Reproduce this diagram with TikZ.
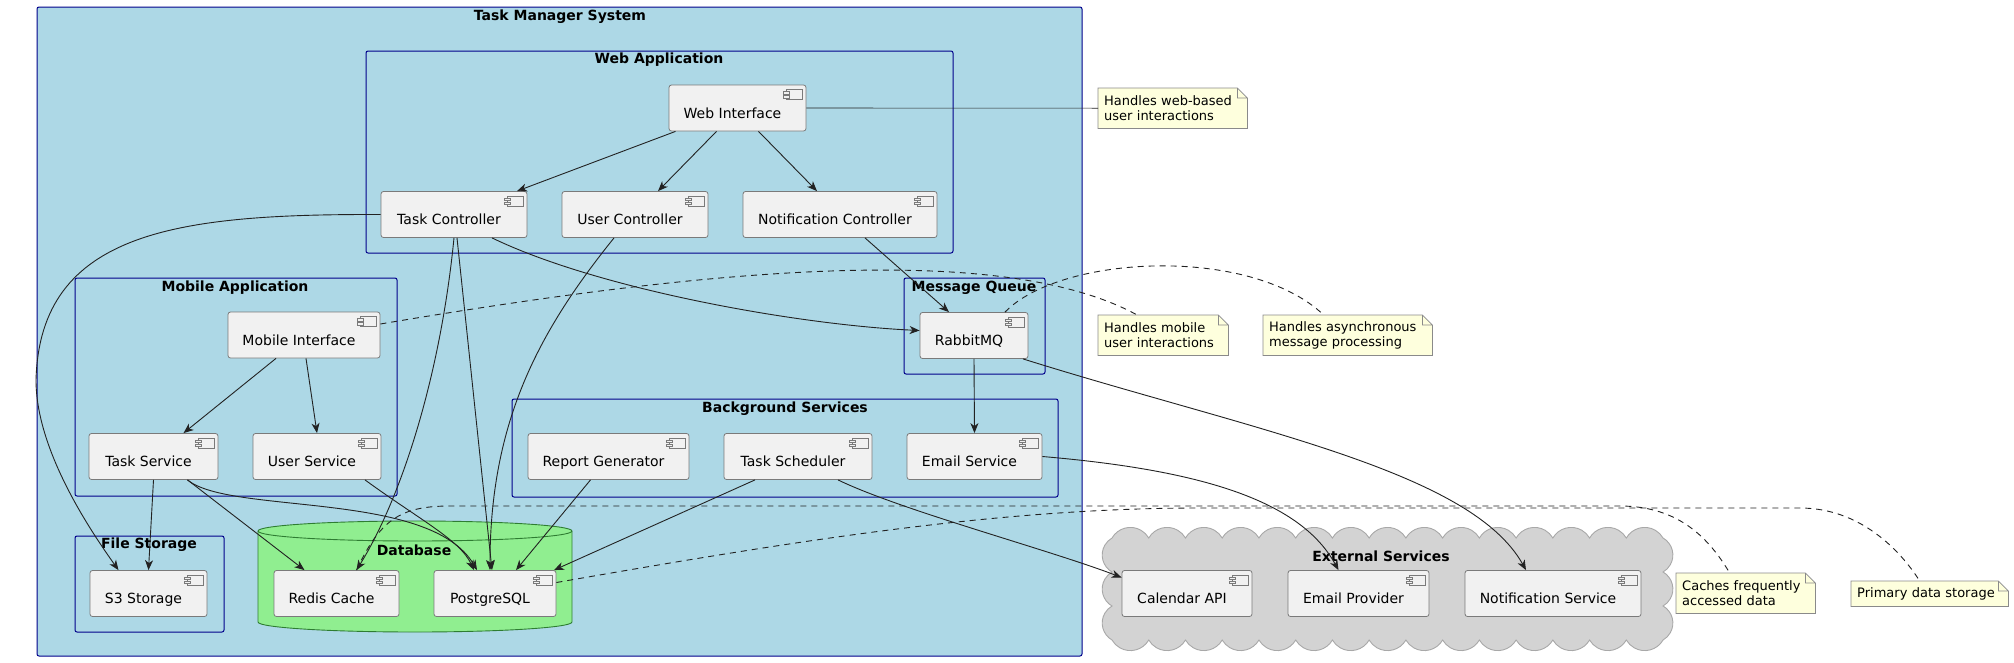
\documentclass[tikz,border=0pt]{standalone}
\usepackage{fontspec}
\setmainfont{DejaVu Sans}
\usetikzlibrary{arrows.meta}
\definecolor{pkgfill}{HTML}{ADD8E6}
\definecolor{pkgedge}{HTML}{00008B}
\definecolor{compfill}{HTML}{F1F1F1}
\definecolor{compedge}{HTML}{7A7A7A}
\definecolor{dbfill}{HTML}{90EE90}
\definecolor{dbedge}{HTML}{2E7D32}
\definecolor{cloudfill}{HTML}{D3D3D3}
\definecolor{cloudedge}{HTML}{A8A8A8}
\definecolor{notefill}{HTML}{FEFFDD}
\definecolor{noteedge}{HTML}{8A8A8A}
\definecolor{edgecol}{HTML}{222222}
\tikzset{
  comp/.style={draw=compedge, fill=compfill, line width=0.8pt, rounded corners=2.5pt,
    minimum height=46pt, inner sep=0pt, text height=20pt, text depth=0pt,
    font=\fontsize{14}{16}\selectfont, execute at end node=\kern10pt},
  pkgbox/.style={draw=pkgedge, fill=pkgfill, line width=1pt, rounded corners=2pt},
  pkgtitle/.style={font=\fontsize{14}{16}\selectfont\bfseries, inner sep=0pt},
  notebox/.style={fill=notefill, inner sep=6pt, align=left, anchor=north west,
    font=\fontsize{13}{15}\selectfont},
  noteline/.style={draw=noteedge, line width=0.8pt},
  usearrow/.style={draw=edgecol, line width=0.9pt, -{Stealth[length=10pt,width=8pt,inset=3pt]}},
  notelink/.style={draw=edgecol, line width=0.9pt, dash pattern=on 6pt off 5pt},
  compicon/.pic={
    \draw[draw=compedge, fill=compfill, line width=0.6pt] (-20,5) rectangle (-4,15);
    \draw[draw=compedge, fill=compfill, line width=0.6pt] (-23,7) rectangle (-17,9.5);
    \draw[draw=compedge, fill=compfill, line width=0.6pt] (-23,11) rectangle (-17,13.5);
  }
}
\begin{document}
\begin{tikzpicture}[x=1pt,y=-1pt]
\useasboundingbox (0,0) rectangle (2014,662);
% containers
\draw[pkgbox] (37,7) rectangle (1082,656);
\draw[pkgbox] (366,51) rectangle (953,253);
\draw[pkgbox] (75,278) rectangle (397,496);
\draw[pkgbox] (904,278) rectangle (1045,374);
\draw[pkgbox] (512,399) rectangle (1058,497);
\draw[pkgbox] (75,536) rectangle (224,632);
% database
\draw[draw=dbedge, fill=dbfill, line width=0.9pt] (258,531) -- (258,622)
  arc[start angle=180, end angle=360, x radius=157pt, y radius=10pt] -- (572,531)
  arc[start angle=0, end angle=180, x radius=157pt, y radius=10pt] -- cycle;
\draw[draw=dbedge, line width=0.9pt] (258,531) arc[start angle=180, end angle=360, x radius=157pt, y radius=10pt];
% external services cloud
\draw[draw=cloudedge, fill=cloudfill, line width=0.9pt] (1112,538)
  \foreach \i in {1,...,15}{ arc[start angle=150, end angle=30, radius=21.21pt] }
  \foreach \i in {1,2,3}{ arc[start angle=60, end angle=-60, radius=19.63pt] }
  \foreach \i in {1,...,15}{ arc[start angle=-30, end angle=-150, radius=21.21pt] }
  \foreach \i in {1,2,3}{ arc[start angle=240, end angle=120, radius=19.63pt] }
  -- cycle;
% titles
\node[pkgtitle] (tsys) at (560,17) {Task Manager System};
\node[pkgtitle] (tweb) at (659,60) {Web Application};
\node[pkgtitle] (tmob) at (235,288) {Mobile Application};
\node[pkgtitle] (tmq) at (974,288) {Message Queue};
\node[pkgtitle] (tbg) at (785,409) {Background Services};
\node[pkgtitle] (tfile) at (149,545) {File Storage};
\node[pkgtitle] (tdb) at (414,550) {Database};
\node[pkgtitle] (text) at (1381,556) {External Services};
% components
\node[comp, minimum width=137pt] (webui) at (737.5,108) {Web Interface};
\node[comp, minimum width=146pt] (taskctl) at (454,214.5) {Task Controller};
\node[comp, minimum width=146pt] (userctl) at (635,214.5) {User Controller};
\node[comp, minimum width=194pt] (notifctl) at (840,214.5) {Notification Controller};
\node[comp, minimum width=152pt] (mobileui) at (304,335) {Mobile Interface};
\node[comp, minimum width=108pt] (rabbit) at (974,335.5) {RabbitMQ};
\node[comp, minimum width=129pt] (tasksvc) at (153.5,456.5) {Task Service};
\node[comp, minimum width=128pt] (usersvc) at (317,456.5) {User Service};
\node[comp, minimum width=161pt] (report) at (608.5,456.5) {Report Generator};
\node[comp, minimum width=148pt] (sched) at (798,456.5) {Task Scheduler};
\node[comp, minimum width=135pt] (emailsvc) at (974.5,456.5) {Email Service};
\node[comp, minimum width=117pt] (s3) at (148.5,593.5) {S3 Storage};
\node[comp, minimum width=125pt] (redis) at (336.5,593.5) {Redis Cache};
\node[comp, minimum width=122pt] (pg) at (495,593.5) {PostgreSQL};
\node[comp, minimum width=130pt] (calapi) at (1187,593.5) {Calendar API};
\node[comp, minimum width=141pt] (emailprov) at (1358.5,593.5) {Email Provider};
\node[comp, minimum width=176pt] (notifsvc) at (1553,593.5) {Notification Service};
\foreach \n in {webui,taskctl,userctl,notifctl,mobileui,rabbit,tasksvc,usersvc,report,sched,emailsvc,s3,redis,pg,calapi,emailprov,notifsvc}
  \pic at (\n.north east) {compicon};
% notes
\node[notebox, text width=137pt, minimum height=40pt] (nweb) at (1098,88) {Handles web-based\\user interactions};
\node[notebox, text width=118pt, minimum height=40pt] (nmob) at (1098,315) {Handles mobile\\user interactions};
\node[notebox, text width=157pt, minimum height=40pt] (nasync) at (1263,315) {Handles asynchronous\\message processing};
\node[notebox, text width=127pt, minimum height=40pt] (ncache) at (1676,573) {Caches frequently\\accessed data};
\node[notebox, text width=145pt, minimum height=25pt] (nprim) at (1851,581) {Primary data storage};
\foreach \n in {nweb,nmob,nasync,ncache,nprim}{
  \fill[white] ([xshift=-10pt]\n.north east) -- (\n.north east) -- ([yshift=-10pt]\n.north east) -- cycle;
  \draw[noteline] (\n.north west) -- ([xshift=-10pt]\n.north east) -- ([yshift=-10pt]\n.north east)
    -- (\n.south east) -- (\n.south west) -- cycle
    ([xshift=-10pt]\n.north east) |- ([yshift=-10pt]\n.north east);
}
% web application
\draw[usearrow] ([xshift=-62pt]webui.south) -- ([xshift=63pt]taskctl.north);
\draw[usearrow] ([xshift=-21pt]webui.south) -- ([xshift=23pt]userctl.north);
\draw[usearrow] ([xshift=21pt]webui.south) -- ([xshift=-23pt]notifctl.north);
\draw[draw=edgecol, line width=0.6pt] (webui.east) -- (nweb.west);
\draw[usearrow] (taskctl.west) .. controls (180,214) and (40,230) .. (36,380)
  .. controls (36,450) and (90,530) .. ([xshift=-30pt]s3.north);
\draw[usearrow] (taskctl.south) .. controls (440,380) and (400,500) .. ([xshift=20pt]redis.north);
\draw[usearrow] ([xshift=3pt]taskctl.south) -- ([xshift=-3pt]pg.north);
\draw[usearrow] ([xshift=38pt]taskctl.south) .. controls (600,290) and (800,325) .. ([yshift=5pt]rabbit.west);
\draw[usearrow] ([xshift=-21pt]userctl.south) .. controls (540,330) and (490,420) .. ([xshift=-5pt]pg.north);
\draw[usearrow] ([xshift=25pt]notifctl.south) -- ([xshift=-25pt]rabbit.north);
% mobile application
\draw[usearrow] ([xshift=-28pt]mobileui.south) -- ([xshift=30pt]tasksvc.north);
\draw[usearrow] ([xshift=2pt]mobileui.south) -- (usersvc.north);
\draw[usearrow] (tasksvc.south) -- (s3.north);
\draw[usearrow] ([xshift=34pt]tasksvc.south) -- ([xshift=-32pt]redis.north);
\draw[usearrow] ([xshift=34pt]tasksvc.south) .. controls (230,515) and (430,490) .. ([xshift=-18pt]pg.north);
\draw[usearrow] ([xshift=48pt]usersvc.south) .. controls (420,520) and (460,540) .. ([xshift=-21pt]pg.north);
% queue and background services
\draw[usearrow] (rabbit.south) -- (emailsvc.north);
\draw[usearrow] ([xshift=49pt]rabbit.south) .. controls (1250,430) and (1470,470) .. ([xshift=-27pt]notifsvc.north);
\draw[usearrow] (emailsvc.east) .. controls (1200,470) and (1300,500) .. ([xshift=-20pt]emailprov.north);
\draw[usearrow] ([xshift=-18pt]report.south) -- ([xshift=21pt]pg.north);
\draw[usearrow] ([xshift=-43pt]sched.south) -- ([xshift=59pt]pg.north);
\draw[usearrow] ([xshift=40pt]sched.south) .. controls (900,510) and (1050,550) .. ([yshift=16pt]calapi.west);
% note links
\draw[notelink] ([yshift=11pt]mobileui.east) .. controls (700,270) and (1000,240) .. ([xshift=-26pt]nmob.north);
\draw[notelink] ([xshift=31pt]rabbit.north) .. controls (1060,255) and (1250,245) .. ([xshift=-24pt]nasync.north);
\draw[notelink] ([xshift=20pt]redis.north) .. controls (380,520) and (400,506) .. (450,506) -- (1620,506)
  .. controls (1680,506) and (1710,540) .. ([xshift=-16pt]ncache.north);
\draw[notelink] ([yshift=11pt]pg.east) .. controls (800,540) and (1000,508) .. (1200,508) -- (1800,508)
  .. controls (1860,508) and (1900,550) .. ([xshift=-10pt]nprim.north);
\end{tikzpicture}
\end{document}
